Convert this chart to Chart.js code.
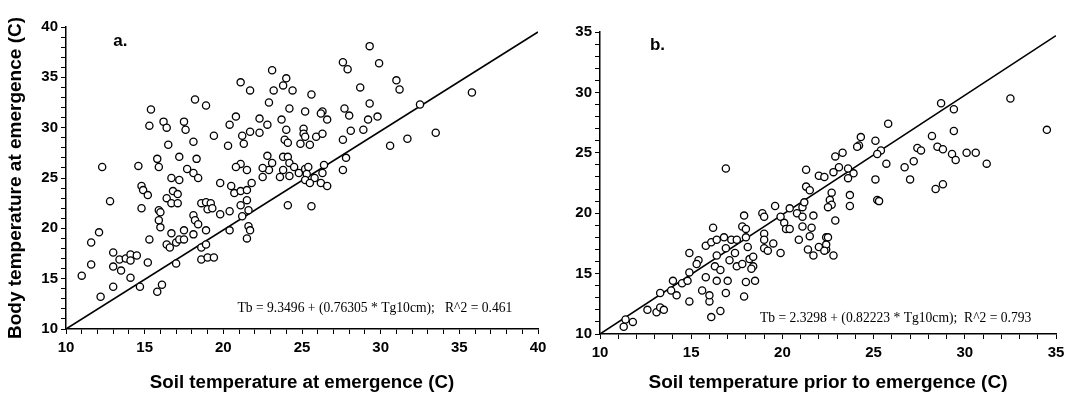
<!DOCTYPE html>
<html>
<head>
<meta charset="utf-8">
<script src="https://cdn.jsdelivr.net/npm/chart.js@4.4.1/dist/chart.umd.min.js"></script>
<style>
  body { margin: 0; background: #fff; width: 1073px; height: 402px; overflow: hidden; position: relative; }
  canvas { position: absolute; top: 0; }
  #chartA { left: 0; }
  #chartB { left: 560px; }
</style>
</head>
<body>
<canvas id="chartA" width="560" height="402"></canvas>
<canvas id="chartB" width="513" height="402"></canvas>
<script>
// panel a: soil temperature at emergence vs body temperature
const soilA = [12.3, 12.8, 12.1, 11.6, 11.6, 11.0, 12.2, 13.0, 13.0, 13.0, 13.4, 13.5, 13.8, 14.1, 14.1, 14.1, 14.5, 14.7, 15.2, 15.3,
  15.8, 16.1, 14.6, 14.8, 14.9, 15.2, 14.8, 15.4, 15.3, 15.8, 15.9, 16.2, 16.4, 16.5, 16.4, 16.7, 16.8, 17.1, 17.1, 15.9,
  16.0, 15.9, 16.0, 16.7, 17.2, 17.2, 17.5, 17.6, 18.1, 17.7, 18.1, 18.4, 18.3, 18.2, 18.9, 19.4, 16.7, 16.4, 16.6, 17.0,
  17.2, 17.5, 17.5, 18.1, 18.1, 18.2, 18.4, 18.9, 18.6, 18.9, 19.2, 19.0, 19.3, 18.6, 18.9, 18.6, 19.0, 19.4, 17.0, 19.8,
  19.8, 20.4, 20.4, 20.5, 20.7, 21.1, 21.5, 21.8, 21.5, 21.2, 21.6, 21.1, 21.6, 21.7, 21.5, 20.4, 20.8, 20.3, 21.2, 21.3,
  21.7, 21.1, 21.5, 20.8, 22.3, 22.8, 22.3, 22.5, 22.8, 23.1, 22.9, 22.5, 23.7, 24.0, 23.9, 24.1, 24.9, 23.8, 24.1, 24.2,
  24.5, 24.2, 23.8, 23.6, 24.8, 24.1, 21.1, 21.7, 23.1, 24.0, 23.8, 24.4, 23.2, 22.9, 24.2, 29.3, 27.6, 27.9, 29.9, 31.0,
  31.2, 28.7, 25.6, 35.8, 32.5, 29.3, 27.7, 28.0, 29.8, 29.2, 28.9, 28.1, 27.6, 26.3, 26.2, 26.6, 25.2, 25.1, 25.1, 25.2,
  25.9, 26.3, 25.5, 25.2, 25.4, 25.3, 25.2, 25.8, 25.5, 26.4, 26.3, 26.2, 26.6, 27.6, 27.8, 30.6, 31.7, 33.5, 25.6];
const bodyA = [26.1, 22.7, 19.6, 18.6, 16.4, 15.3, 13.2, 14.2, 17.6, 16.2, 16.9, 15.8, 17.0, 17.4, 16.8, 15.1, 17.3, 14.2, 16.6, 18.9,
  13.7, 14.4, 26.2, 24.2, 23.8, 23.3, 22.0, 31.8, 30.2, 26.9, 26.1, 30.6, 30.0, 28.3, 23.0, 22.5, 23.7, 23.4, 22.5, 21.8,
  21.6, 20.8, 20.1, 25.0, 24.8, 27.1, 30.6, 29.8, 28.6, 25.9, 25.5, 25.0, 26.9, 32.8, 32.2, 29.2, 19.5, 18.4, 18.1, 18.6,
  18.9, 18.9, 19.8, 19.4, 21.3, 20.8, 20.4, 19.8, 22.5, 22.6, 22.5, 21.9, 22.0, 18.1, 18.4, 16.9, 17.1, 17.1, 16.5, 24.5,
  21.4, 21.7, 19.8, 24.2, 23.5, 23.7, 23.8, 24.5, 22.8, 21.2, 21.8, 22.3, 20.2, 19.8, 19.0, 30.3, 31.1, 28.2, 29.2, 28.4,
  29.6, 26.4, 25.8, 26.1, 30.9, 30.3, 29.5, 25.1, 27.2, 26.5, 25.8, 26.0, 30.8, 29.8, 28.8, 28.5, 28.4, 27.1, 27.1, 26.5,
  26.1, 25.2, 25.8, 25.1, 25.5, 22.3, 34.5, 33.7, 35.7, 34.9, 34.2, 33.7, 33.7, 32.5, 31.9, 38.1, 36.5, 35.8, 36.4, 34.7,
  33.8, 34.0, 33.3, 33.5, 32.3, 32.4, 31.9, 31.2, 31.1, 30.8, 29.8, 29.7, 28.8, 31.6, 31.4, 30.8, 31.6, 29.9, 29.4, 29.1,
  29.1, 29.4, 28.3, 25.9, 26.1, 25.4, 24.8, 25.0, 24.5, 26.3, 25.5, 24.5, 24.2, 25.8, 27.0, 28.2, 28.9, 29.5, 22.2];
const lineAx = [10, 40];
const lineAy = [10, 39.5];

// panel b: soil temperature prior to emergence vs body temperature
const soilB = [16.9, 11.3, 11.4, 11.8, 12.6, 13.1, 13.3, 13.5, 13.3, 13.9, 14.2, 14.0, 14.5, 14.8, 14.9, 14.9, 14.9, 15.4, 15.3, 15.6,
  15.8, 15.8, 16.0, 16.0, 16.1, 16.2, 16.1, 16.4, 16.4, 16.3, 16.4, 16.6, 16.6, 16.8, 16.9, 16.9, 17.0, 17.1, 17.2, 17.4,
  17.5, 17.5, 17.8, 17.9, 17.8, 18.0, 18.0, 17.9, 18.0, 18.1, 18.2, 18.4, 18.4, 18.5, 18.3, 18.9, 19.0, 19.0, 19.0, 19.0,
  19.2, 19.5, 19.6, 19.9, 19.9, 20.1, 20.2, 20.4, 20.4, 20.8, 20.9, 21.1, 21.1, 21.1, 21.2, 21.3, 21.3, 21.5, 21.4, 21.7,
  21.6, 21.5, 21.7, 22.0, 22.0, 22.3, 22.4, 22.4, 32.5, 34.5, 28.7, 29.4, 29.4, 28.2, 28.5, 28.8, 29.3, 29.5, 30.1, 30.6,
  31.2, 27.4, 27.6, 27.2, 26.7, 27.0, 28.4, 28.8, 25.8, 25.1, 25.4, 25.2, 25.7, 25.1, 25.2, 25.3, 24.3, 24.2, 24.1, 23.3,
  22.9, 23.1, 23.6, 22.8, 23.9, 23.6, 22.7, 23.7, 23.7, 22.6, 22.7, 22.5, 22.9, 22.5, 22.4, 22.3, 22.8];
const bodyB = [23.7, 10.6, 11.2, 11.0, 12.0, 11.8, 12.2, 12.0, 13.4, 13.6, 13.2, 14.4, 14.2, 14.4, 15.1, 16.7, 12.7, 16.1, 15.8, 13.6,
  14.7, 17.3, 12.7, 13.2, 11.4, 18.8, 17.6, 17.8, 16.5, 15.6, 14.4, 15.3, 11.9, 18.0, 17.1, 13.4, 14.4, 16.1, 17.8, 16.7,
  17.8, 15.6, 15.8, 19.8, 18.9, 18.7, 18.0, 13.1, 14.3, 17.2, 16.2, 15.6, 16.4, 14.4, 15.4, 20.0, 19.7, 18.3, 17.8, 17.1,
  16.9, 17.5, 20.6, 16.7, 19.7, 19.2, 18.7, 18.7, 20.4, 20.0, 17.8, 19.7, 18.9, 20.5, 20.9, 22.2, 23.6, 21.9, 17.0, 19.8,
  18.8, 18.1, 16.5, 17.2, 23.1, 23.0, 17.0, 18.0, 29.5, 26.9, 29.1, 28.6, 26.8, 26.4, 25.5, 25.3, 24.9, 24.4, 25.0, 25.0,
  24.1, 25.4, 25.2, 24.3, 23.8, 22.8, 22.0, 22.4, 27.4, 26.0, 25.2, 24.9, 24.1, 22.8, 21.1, 21.0, 26.3, 25.6, 25.5, 25.0,
  24.7, 23.8, 23.7, 23.4, 23.3, 22.9, 21.7, 21.5, 20.6, 21.1, 20.7, 20.5, 19.4, 18.0, 17.4, 16.9, 16.5];
const lineBx = [10, 35];
const lineBy = [10, 34.7];

function pairs(xs, ys) {
  return xs.map((x, i) => ({ x: x, y: ys[i] }));
}

const tickFont = { family: 'Liberation Sans', size: 15, weight: 'bold' };

// panel letter and regression equation, placed in data units
const textPlugin = {
  id: 'panelText',
  afterDraw(chart) {
    const t = chart.options.plugins.panelText;
    const ctx = chart.ctx;
    const xs = chart.scales.x, ys = chart.scales.y;
    ctx.save();
    ctx.fillStyle = '#000';
    ctx.textAlign = 'left';
    ctx.font = 'bold 17px "Liberation Sans"';
    ctx.textBaseline = 'alphabetic';
    ctx.fillText(t.letter, xs.getPixelForValue(t.letterAt[0]), ys.getPixelForValue(t.letterAt[1]));
    ctx.font = '13.6px "Liberation Serif"';
    ctx.textBaseline = 'middle';
    ctx.fillText(t.eq, xs.getPixelForValue(t.eqAt[0]), ys.getPixelForValue(t.eqAt[1]));
    ctx.restore();
  }
};

function makeChart(id, cfg) {
  const ctx = document.getElementById(id).getContext('2d');
  return new Chart(ctx, {
    type: 'scatter',
    data: {
      datasets: [{
        data: cfg.points,
        pointStyle: 'circle',
        pointRadius: 3.6,
        pointBorderWidth: 1.3,
        pointBorderColor: '#000',
        pointBackgroundColor: '#fff',
        order: 1
      }, {
        type: 'line',
        data: cfg.line,
        borderColor: '#000',
        borderWidth: 1.6,
        pointRadius: 0,
        fill: false,
        order: 2
      }]
    },
    options: {
      responsive: false,
      animation: false,
      layout: { padding: cfg.padding },
      plugins: {
        legend: { display: false },
        tooltip: { enabled: false },
        panelText: cfg.text
      },
      scales: {
        x: {
          type: 'linear',
          min: cfg.xMin, max: cfg.xMax,
          afterFit: function(scale) { scale.height = cfg.xAxisHeight; },
          ticks: {
            stepSize: 1, autoSkip: false, maxRotation: 0, padding: 5,
            color: '#000', font: tickFont,
            callback: v => v % 5 === 0 ? v : ''
          },
          grid: { drawOnChartArea: false, tickLength: 5, color: '#000', lineWidth: 1 },
          border: { color: '#000', width: 1.5 },
          title: {
            display: true, text: cfg.xTitle, color: '#000',
            font: { family: 'Liberation Sans', size: cfg.xTitleSize, weight: 'bold' },
            padding: { top: 4, bottom: 8 }
          }
        },
        y: {
          type: 'linear',
          min: cfg.yMin, max: cfg.yMax,
          afterFit: function(scale) { scale.width = cfg.yAxisWidth; },
          ticks: {
            stepSize: 1, autoSkip: false, padding: 3,
            color: '#000', font: tickFont,
            callback: v => v % 5 === 0 ? v : ''
          },
          grid: { drawOnChartArea: false, tickLength: 5, color: '#000', lineWidth: 1 },
          border: { color: '#000', width: 1.5 },
          title: {
            display: cfg.yTitle !== '', text: cfg.yTitle, color: '#000',
            font: { family: 'Liberation Sans', size: 19, weight: 'bold' },
            padding: { top: 4, bottom: 4 }
          }
        }
      }
    },
    plugins: [textPlugin]
  });
}

makeChart('chartA', {
  points: pairs(soilA, bodyA),
  line: pairs(lineAx, lineAy),
  xMin: 10, xMax: 40, yMin: 10, yMax: 40,
  padding: { left: 0, top: 27, right: 22, bottom: 0 },
  xAxisHeight: 73, yAxisWidth: 66,
  xTitle: 'Soil temperature at emergence (C)', xTitleSize: 18.7,
  yTitle: 'Body temperature at emergence (C)',
  text: { letter: 'a.', letterAt: [13.0, 38.1], eq: 'Tb = 9.3496 + (0.76305 * Tg10cm);   R^2 = 0.461', eqAt: [20.9, 12.0] }
});

makeChart('chartB', {
  points: pairs(soilB, bodyB),
  line: pairs(lineBx, lineBy),
  xMin: 10, xMax: 35, yMin: 10, yMax: 35,
  padding: { left: 0, top: 32, right: 17, bottom: 0 },
  xAxisHeight: 68, yAxisWidth: 40,
  xTitle: 'Soil temperature prior to emergence (C)', xTitleSize: 19,
  yTitle: '',
  text: { letter: 'b.', letterAt: [12.74, 33.5], eq: 'Tb = 2.3298 + (0.82223 * Tg10cm);  R^2 = 0.793', eqAt: [18.77, 11.3] }
});
</script>
</body>
</html>
